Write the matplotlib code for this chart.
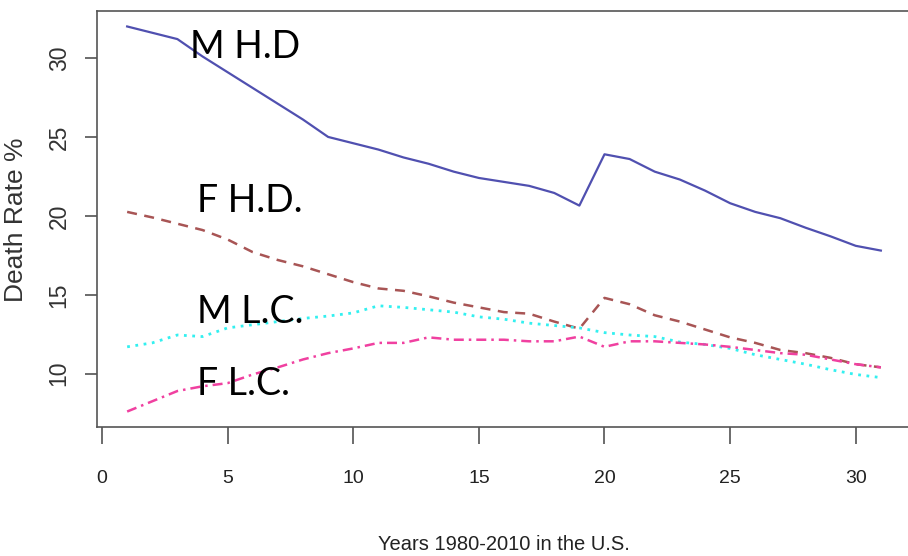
import matplotlib
matplotlib.use("Agg")
import matplotlib.pyplot as plt
from matplotlib import font_manager

years = list(range(1, 32))

m_hd = [32.0, 31.6, 31.2, 30.1, 29.1, 28.1, 27.1, 26.1, 25.0, 24.6,
        24.2, 23.7, 23.3, 22.8, 22.4, 22.15, 21.9, 21.45, 20.65, 23.9,
        23.6, 22.8, 22.3, 21.6, 20.8, 20.25, 19.85, 19.25, 18.7, 18.1, 17.8]
f_hd = [20.25, 19.9, 19.5, 19.1, 18.5, 17.7, 17.2, 16.8, 16.3, 15.8,
        15.4, 15.25, 14.9, 14.5, 14.2, 13.9, 13.8, 13.3, 12.85, 14.8,
        14.4, 13.7, 13.3, 12.8, 12.3, 11.95, 11.5, 11.3, 11.0, 10.6, 10.4]
m_lc = [11.7, 11.95, 12.45, 12.35, 12.9, 13.1, 13.3, 13.5, 13.65, 13.85,
        14.3, 14.2, 14.05, 13.9, 13.6, 13.45, 13.2, 13.05, 12.9, 12.6,
        12.45, 12.35, 12.0, 11.85, 11.6, 11.2, 10.9, 10.6, 10.25, 9.95, 9.75]
f_lc = [7.6, 8.25, 8.9, 9.2, 9.4, 9.95, 10.4, 10.9, 11.3, 11.6,
        11.95, 11.95, 12.3, 12.15, 12.15, 12.15, 12.05, 12.05, 12.35, 11.7,
        12.05, 12.05, 11.95, 11.85, 11.7, 11.5, 11.3, 11.2, 10.9, 10.6, 10.4]

labels = ["M H.D", "F H.D.", "M L.C.", "F L.C."]
label_pos = [(3.5, 30.0), (3.8, 20.25), (3.8, 13.2), (3.8, 8.67)]

installed = {f.name for f in font_manager.fontManager.ttflist}
narrow = "Liberation Sans Narrow" if "Liberation Sans Narrow" in installed else "Liberation Sans"

plt.rcParams["font.family"] = ["Liberation Sans", "DejaVu Sans"]

fig = plt.figure(figsize=(9.08, 5.56), dpi=100)
ax = fig.add_axes([97 / 908, 1 - 427 / 556, 814 / 908, 416 / 556])

ax.plot(years, m_hd, color="#5050b0", lw=1.6, ls="-")
ax.plot(years, f_hd, color="#a85555", lw=1.8, ls=(0, (4, 3)))
ax.plot(years, m_lc, color="#33f0f0", lw=2.0, ls=(0, (1, 2)))
ax.plot(years, f_lc, color="#f040a0", lw=1.8, ls=(0, (4, 2, 1, 2)))

ax.set_xlim(-0.2, 32.2)
ax.set_ylim(6.62, 32.98)
ax.set_xticks([0, 5, 10, 15, 20, 25, 30])
ax.set_yticks([10, 15, 20, 25, 30])

for s in ax.spines.values():
    s.set_color("#555555")
    s.set_linewidth(1.2)

ax.tick_params(axis="x", direction="out", length=12, width=1.1, color="#444444",
               pad=19, labelsize=14, labelcolor="#222222")
ax.tick_params(axis="y", direction="out", length=9, width=1.1, color="#444444",
               pad=10, labelsize=16.5, labelcolor="#333333")
for t in ax.get_xticklabels():
    t.set_fontfamily(narrow)
for t in ax.get_yticklabels():
    t.set_rotation(90)
    t.set_va("center")

fig.text(16 / 908, 1 - 220 / 556, "Death Rate %", rotation=90, fontsize=19,
         color="#333333", ha="center", va="center")
fig.text(504 / 908, 1 - 544 / 556, "Years 1980-2010 in the U.S.", fontsize=14.5,
         color="#222222", family=narrow, ha="center", va="center")

for text, (x, y) in zip(labels, label_pos):
    ax.text(x, y, text, fontsize=27, family=["Lato", "DejaVu Sans"],
            va="baseline", ha="left", color="black")

fig.savefig("out.png", dpi=100)
